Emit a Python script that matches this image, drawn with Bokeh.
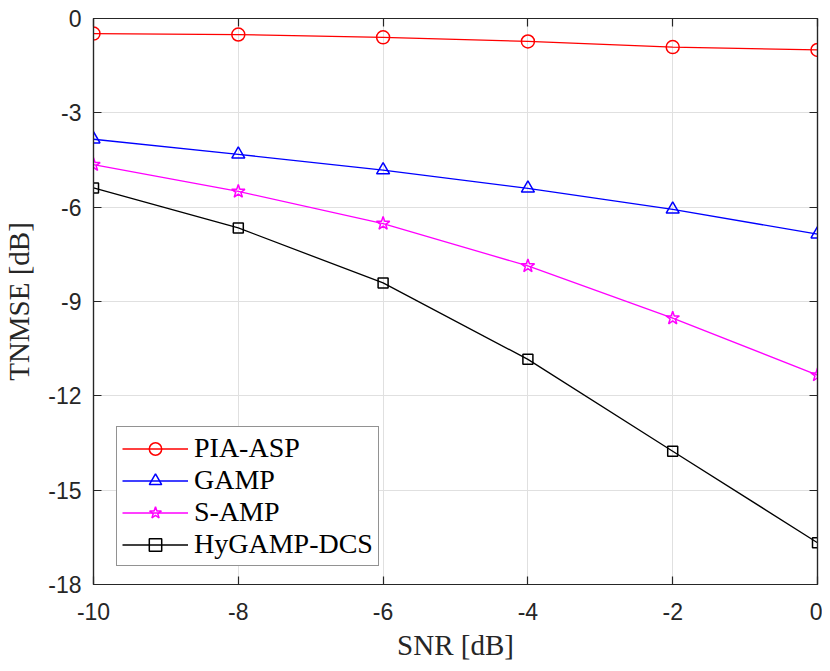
from bokeh.plotting import figure
from bokeh.models import Range1d, LinearAxis, FixedTicker, Legend, LegendItem, PrintfTickFormatter
from bokeh.embed import file_html
from bokeh.resources import INLINE

snr = [-10, -8, -6, -4, -2, 0]
pia_asp = [-0.48, -0.51, -0.60, -0.73, -0.91, -1.00]
gamp = [-3.84, -4.32, -4.82, -5.40, -6.07, -6.86]
s_amp = [-4.65, -5.50, -6.52, -7.87, -9.53, -11.34]
hygamp_dcs = [-5.39, -6.66, -8.41, -10.84, -13.76, -16.67]

x_ticks = [-10, -8, -6, -4, -2, 0]
y_ticks = [-18, -15, -12, -9, -6, -3, 0]

series = [
    ("PIA-ASP", pia_asp, "#ff0000", "circle", 13),
    ("GAMP", gamp, "#0000ff", "triangle", 13),
    ("S-AMP", s_amp, "#ff00ff", "star", 14),
    ("HyGAMP-DCS", hygamp_dcs, "#000000", "square", 10),
]

AX = "#262626"
p = figure(width=822, height=668, output_backend="svg", toolbar_location=None,
           x_range=Range1d(-10, 0), y_range=Range1d(-18, 0),
           min_border_left=92, min_border_right=5, min_border_top=18, min_border_bottom=84)
p.outline_line_color = AX
p.outline_line_width = 1.2
p.background_fill_color = "white"

for ax in (p.xaxis[0], p.yaxis[0]):
    ax.major_tick_in = 8
    ax.major_tick_out = 0
    ax.minor_tick_line_color = None
    ax.axis_line_color = AX
    ax.axis_line_width = 1.2
    ax.major_tick_line_color = AX
    ax.major_tick_line_width = 1.2
    ax.major_label_text_font = "Liberation Sans"
    ax.major_label_text_font_size = "23px"
    ax.major_label_text_color = AX
    ax.axis_label_text_font = "Liberation Serif"
    ax.axis_label_text_font_size = "29px"
    ax.axis_label_text_font_style = "normal"
    ax.axis_label_text_color = AX
    ax.formatter = PrintfTickFormatter(format="%d")

p.xaxis.ticker = FixedTicker(ticks=x_ticks)
p.yaxis.ticker = FixedTicker(ticks=y_ticks)
p.xaxis.axis_label = "SNR [dB]"
p.yaxis.axis_label = "TNMSE [dB]"
p.xaxis.major_label_standoff = 18
p.yaxis.major_label_standoff = 12
p.xaxis.axis_label_standoff = 6
p.yaxis.axis_label_standoff = 10

for loc, tk in (("above", x_ticks), ("right", y_ticks)):
    ax = LinearAxis(ticker=FixedTicker(ticks=tk), major_tick_in=8, major_tick_out=0,
                    minor_tick_line_color=None, axis_line_color=AX, axis_line_width=1.2,
                    major_tick_line_color=AX, major_tick_line_width=1.2,
                    major_label_text_color=None, major_label_text_font_size="1px",
                    major_label_standoff=0)
    p.add_layout(ax, loc)

p.xgrid.ticker = FixedTicker(ticks=x_ticks)
p.ygrid.ticker = FixedTicker(ticks=y_ticks)
for g in (p.xgrid[0], p.ygrid[0]):
    g.grid_line_color = "#e0e0e0"
    g.grid_line_width = 1

items = []
for name, ys, col, mk, sz in series:
    r1 = p.line(snr, ys, line_color=col, line_width=1.3)
    r2 = p.scatter(snr, ys, marker=mk, size=sz, line_color=col, line_width=1.5,
                   fill_alpha=0)
    items.append(LegendItem(label=name, renderers=[r1, r2]))

legend = Legend(items=items, location=(23, 18))
legend.label_text_font = "Liberation Serif"
legend.label_text_font_size = "28px"
legend.label_text_color = "#000000"
legend.glyph_width = 66
legend.glyph_height = 31
legend.label_height = 31
legend.label_standoff = 6
legend.spacing = 0
legend.padding = 5
legend.margin = 0
legend.border_line_color = AX
legend.border_line_width = 1.2
legend.background_fill_alpha = 1
p.add_layout(legend)

open("out.html", "w").write(file_html(p, INLINE))
